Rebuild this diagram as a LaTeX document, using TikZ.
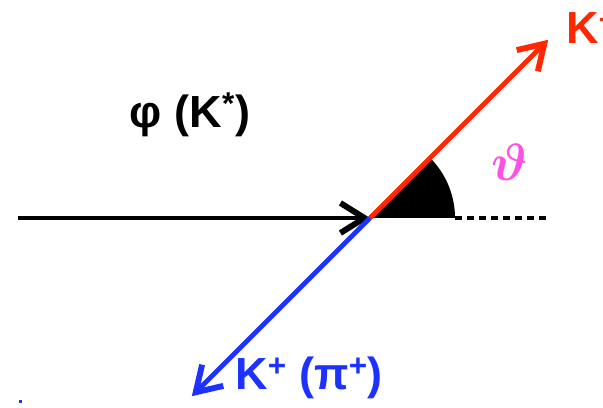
\documentclass[tikz,border=0pt]{standalone}
\usepackage{amsmath}
\usepackage{fontspec}
\setmainfont{Liberation Sans}
\usetikzlibrary{arrows.meta,positioning,calc}

\begin{document}
\begin{tikzpicture}[x=0.025cm,y=0.025cm]
    % Colors and styles
    \definecolor{kred}{RGB}{255, 40, 0}
    \definecolor{kblue}{RGB}{30, 50, 255}
    \definecolor{thetapink}{RGB}{255, 80, 230}
    \tikzstyle{track}=[line width=3.4pt, -{Straight Barb[length=0.6cm, width=0.75cm, line width=4.2pt]}]
    \tikzstyle{lbl}=[font=\fontsize{32}{36}\selectfont\bfseries, inner sep=0pt]

    % Frame
    \useasboundingbox (0,0) rectangle (603,407);

    % Decay vertex and end points
    \coordinate (O) at (370,189);
    \coordinate (inStart) at (18,189);
    \coordinate (dashStart) at (455,189);
    \coordinate (dashEnd) at (548,189);
    \coordinate (kminusTip) at ($(O)+(45:252)$);
    \coordinate (kplusTip) at ($(O)+(225:252)$);

    % Angle wedge
    \fill[black] (O) -- (dashStart) arc[start angle=0, end angle=45, radius=85] -- cycle;

    % Incoming particle
    \draw[track, black] (inStart) -- (O);
    \draw[black, line width=2.6pt, dash pattern=on 0.175cm off 0.125cm] (dashStart) -- (dashEnd);

    % Outgoing kaons
    \draw[track, kred] (O) -- (kminusTip);
    \draw[track, kblue] (O) -- (kplusTip);

    % Labels
    \node[lbl] (phi) at (190,292) {φ (K\textsuperscript{*})};
    \node[lbl, kred, anchor=west] (kminus) at (566,379) {K\textsuperscript{−}};
    \node[lbl, kblue, anchor=west] (kplus) at (235,29) {K\textsuperscript{+} (π\textsuperscript{+})};
    \node[thetapink, inner sep=0pt, scale=1.5] (theta) at (510,245) {\Huge $\boldsymbol{\vartheta}$};

    % Stray dot
    \fill[kblue] (18.5,4.5) rectangle (21.5,7.5);
\end{tikzpicture}
\end{document}
